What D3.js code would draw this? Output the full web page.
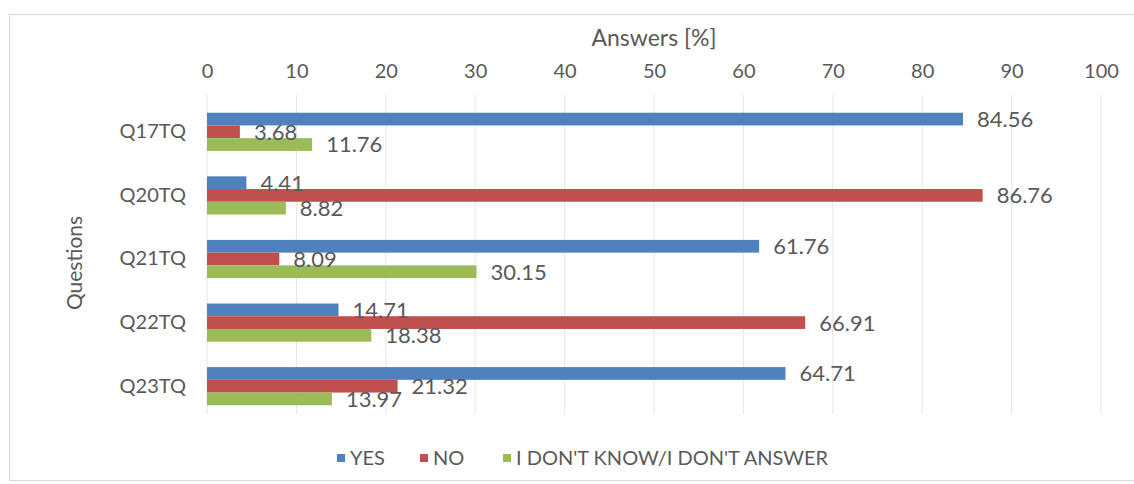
<!DOCTYPE html>
<html>
<head>
<meta charset="utf-8">
<script src="https://cdn.jsdelivr.net/npm/d3@7"></script>
<style>
  html, body { margin: 0; padding: 0; background: #fff; }
  svg { display: block; font-family: Lato, "Open Sans", sans-serif; }
</style>
</head>
<body>
<svg id="chart" width="1134" height="484"></svg>
<script>
// Survey answers per question (percent)
const questions = ["Q17TQ", "Q20TQ", "Q21TQ", "Q22TQ", "Q23TQ"];
const seriesNames = ["YES", "NO", "I DON'T KNOW/I DON'T ANSWER"];
const yesValues = [84.56, 4.41, 61.76, 14.71, 64.71];
const noValues = [3.68, 86.76, 8.09, 66.91, 21.32];
const dunnoValues = [11.76, 8.82, 30.15, 18.38, 13.97];
const xTicks = [0, 10, 20, 30, 40, 50, 60, 70, 80, 90, 100];
const colors = ["#4F81BD", "#C0504D", "#9BBB59"];

const seriesValues = [yesValues, noValues, dunnoValues];
const rows = questions.map((q, i) => ({
  q,
  vals: seriesNames.map((s, k) => ({ s, k, v: seriesValues[k][i] }))
}));

const svg = d3.select("#chart");
const textColor = "#595959";
const fontFamily = "Lato, 'Open Sans', sans-serif";

// outer chart frame
svg.append("rect")
  .attr("x", 9.5).attr("y", 14.5)
  .attr("width", 1140).attr("height", 466)
  .attr("fill", "none").attr("stroke", "#d9d9d9");

const x = d3.scaleLinear().domain([0, 100]).range([207, 1101]);
const y = d3.scaleBand().domain(questions).range([100, 418])
  .paddingInner(0.4).paddingOuter(0.2);
const ySub = d3.scaleBand().domain(d3.range(seriesNames.length))
  .range([0, y.bandwidth()]);

// gridlines
svg.append("g").selectAll("line").data(xTicks).join("line")
  .attr("x1", d => x(d)).attr("x2", d => x(d))
  .attr("y1", 95).attr("y2", 414)
  .attr("stroke", "#e6e6e6").attr("stroke-width", 1);

// top axis tick labels
const axis = svg.append("g").attr("transform", "translate(0,78)")
  .call(d3.axisTop(x).tickValues(xTicks).tickSize(0).tickPadding(0));
axis.select(".domain").remove();
axis.selectAll("text")
  .attr("fill", textColor).style("font-size", "20px")
  .attr("font-family", fontFamily);

// category axis labels
const yAxis = svg.append("g").attr("transform", "translate(186,0)")
  .call(d3.axisLeft(y).tickSize(0).tickPadding(0));
yAxis.select(".domain").remove();
yAxis.selectAll("text")
  .attr("fill", textColor).style("font-size", "20px")
  .attr("font-family", fontFamily);

// axis titles
svg.append("text")
  .attr("x", (x.range()[0] + x.range()[1]) / 2).attr("y", 46)
  .attr("text-anchor", "middle").attr("fill", textColor)
  .style("font-size", "23px").text("Answers [%]");

svg.append("text")
  .attr("transform", `translate(82,263) rotate(-90)`)
  .attr("text-anchor", "middle").attr("fill", textColor)
  .style("font-size", "21px").text("Questions");

// bars and value labels
const groups = svg.append("g").selectAll("g").data(rows).join("g")
  .attr("transform", d => `translate(0,${y(d.q)})`);

groups.selectAll("rect").data(d => d.vals).join("rect")
  .attr("x", x(0))
  .attr("y", d => ySub(d.k))
  .attr("width", d => x(d.v) - x(0))
  .attr("height", ySub.bandwidth())
  .attr("fill", d => colors[d.k]);

groups.selectAll("text").data(d => d.vals).join("text")
  .attr("x", d => x(d.v) + 14)
  .attr("y", d => ySub(d.k) + ySub.bandwidth() / 2)
  .attr("dy", "0.36em")
  .attr("fill", textColor)
  .style("font-size", "22px")
  .text(d => d3.format(".2f")(d.v));

// legend
const legendX = [337, 420, 503];
const legend = svg.append("g").selectAll("g").data(seriesNames).join("g")
  .attr("transform", (d, i) => `translate(${legendX[i]},458)`);
legend.append("rect")
  .attr("x", 0).attr("y", -4).attr("width", 8).attr("height", 8)
  .attr("fill", (d, i) => colors[i]);
legend.append("text")
  .attr("x", 13).attr("dy", "0.36em")
  .attr("fill", textColor).style("font-size", "20px")
  .text(d => d);
</script>
</body>
</html>
